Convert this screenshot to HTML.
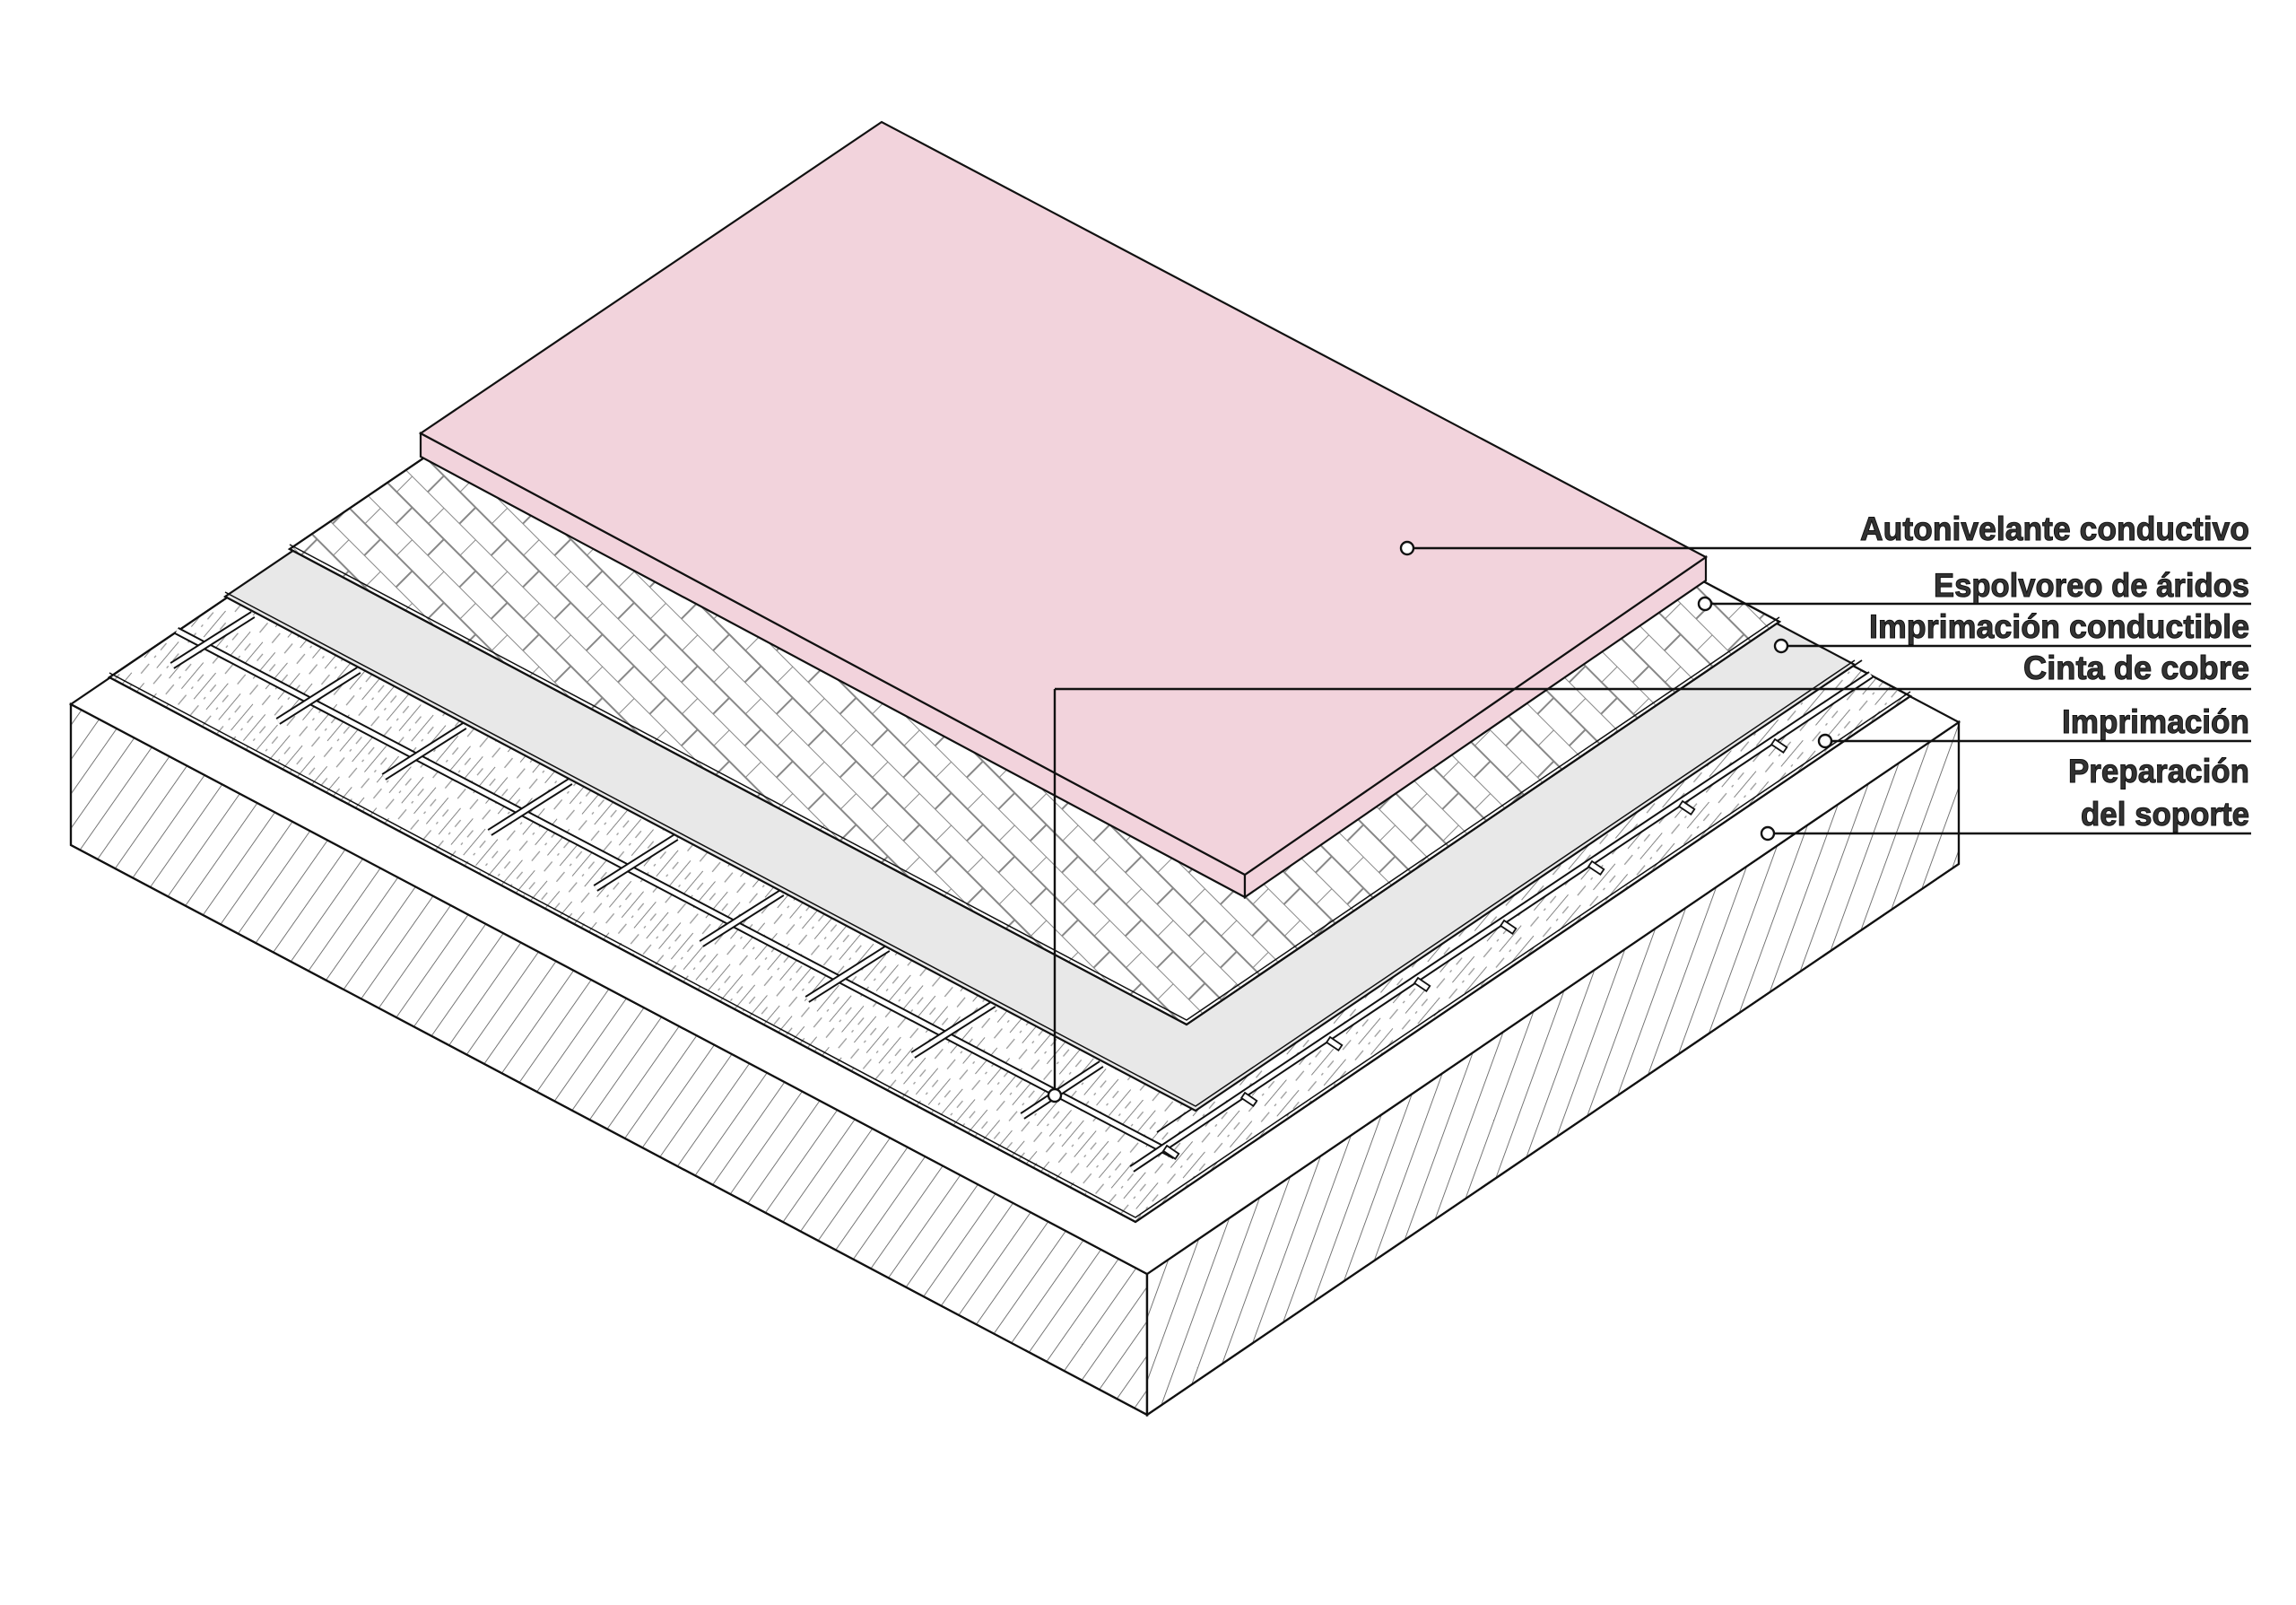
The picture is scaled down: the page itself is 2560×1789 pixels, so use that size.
<!DOCTYPE html>
<html><head><meta charset="utf-8"><style>html,body{margin:0;padding:0;background:#fff}svg{display:block}</style></head>
<body>
<svg width="2560" height="1789" viewBox="0 0 2560 1789" xmlns="http://www.w3.org/2000/svg">
<defs>
<pattern id="hL" width="22" height="22" patternUnits="userSpaceOnUse" patternTransform="rotate(35)">
<line x1="0" y1="0" x2="0" y2="22" stroke="#555" stroke-width="1.6"/></pattern>
<pattern id="hR" width="24" height="24" patternUnits="userSpaceOnUse" patternTransform="rotate(20)">
<line x1="0" y1="0" x2="0" y2="24" stroke="#555" stroke-width="1.6"/></pattern>
<pattern id="hD" width="18" height="60" patternUnits="userSpaceOnUse" patternTransform="rotate(40)">
<line x1="0" y1="0" x2="0" y2="38" stroke="#777" stroke-width="1.8"/>
<line x1="9" y1="10" x2="9" y2="20" stroke="#999" stroke-width="1.3"/>
<line x1="9" y1="28" x2="9" y2="31" stroke="#999" stroke-width="1.3"/>
<line x1="9" y1="40" x2="9" y2="54" stroke="#999" stroke-width="1.3"/></pattern>
<pattern id="hX" width="50" height="50" patternUnits="userSpaceOnUse" patternTransform="rotate(45)">
<line x1="0" y1="0" x2="50" y2="0" stroke="#888" stroke-width="2"/>
<line x1="0" y1="25" x2="50" y2="25" stroke="#888" stroke-width="2"/>
<line x1="0" y1="0" x2="0" y2="25" stroke="#888" stroke-width="2"/>
<line x1="25" y1="25" x2="25" y2="50" stroke="#888" stroke-width="2"/></pattern>
</defs>
<g stroke="#111" stroke-width="2.2" stroke-linejoin="miter">
<polygon points="79,785 1279,1420 1279,1577 79,942" fill="#fff"/>
<polygon points="79,785 1279,1420 1279,1577 79,942" fill="url(#hL)"/>
<polygon points="1279,1420 2184,805 2184,963 1279,1577" fill="#fff"/>
<polygon points="1279,1420 2184,805 2184,963 1279,1577" fill="url(#hR)"/>
<polygon points="79,785 1279,1420 2184,805 984,170" fill="#fff"/>
<polygon points="122,755 1266,1362 2130,776 986,169" fill="#fff"/>
<polygon points="122,755 1266,1362 2130,776 986,169" fill="url(#hD)"/>
<polyline points="122,750 1266,1357 2130,771" fill="none" stroke-width="1.5"/>
<g fill="none">
<line x1="197" y1="703" x2="1310" y2="1288" stroke-width="9"/>
<line x1="197" y1="703" x2="1310" y2="1288" stroke="#fff" stroke-width="5"/>
<line x1="192" y1="742" x2="282" y2="685" stroke-width="9"/><line x1="192" y1="742" x2="282" y2="685" stroke="#fff" stroke-width="5"/>
<line x1="310" y1="804" x2="400" y2="747" stroke-width="9"/><line x1="310" y1="804" x2="400" y2="747" stroke="#fff" stroke-width="5"/>
<line x1="428" y1="866" x2="518" y2="809" stroke-width="9"/><line x1="428" y1="866" x2="518" y2="809" stroke="#fff" stroke-width="5"/>
<line x1="546" y1="928" x2="636" y2="871" stroke-width="9"/><line x1="546" y1="928" x2="636" y2="871" stroke="#fff" stroke-width="5"/>
<line x1="664" y1="990" x2="754" y2="933" stroke-width="9"/><line x1="664" y1="990" x2="754" y2="933" stroke="#fff" stroke-width="5"/>
<line x1="782" y1="1052" x2="872" y2="995" stroke-width="9"/><line x1="782" y1="1052" x2="872" y2="995" stroke="#fff" stroke-width="5"/>
<line x1="900" y1="1114" x2="990" y2="1057" stroke-width="9"/><line x1="900" y1="1114" x2="990" y2="1057" stroke="#fff" stroke-width="5"/>
<line x1="1018" y1="1176" x2="1108" y2="1119" stroke-width="9"/><line x1="1018" y1="1176" x2="1108" y2="1119" stroke="#fff" stroke-width="5"/>
<line x1="1140" y1="1244" x2="1228" y2="1186" stroke-width="9"/><line x1="1140" y1="1244" x2="1228" y2="1186" stroke="#fff" stroke-width="5"/>
<line x1="1262" y1="1303" x2="2086" y2="752" stroke-width="9"/>
<line x1="1262" y1="1303" x2="2086" y2="752" stroke="#fff" stroke-width="5"/>
<line x1="1290" y1="1262" x2="2076" y2="736" stroke-width="1.8"/>
</g>
<g fill="#fff" stroke-width="1.8">
<rect x="1298" y="1281" width="16" height="7" transform="rotate(34 1306 1284)"/>
<rect x="1385" y="1222" width="16" height="7" transform="rotate(34 1393 1225)"/>
<rect x="1480" y="1160" width="16" height="7" transform="rotate(34 1488 1163)"/>
<rect x="1578" y="1094" width="16" height="7" transform="rotate(34 1586 1097)"/>
<rect x="1674" y="1030" width="16" height="7" transform="rotate(34 1682 1033)"/>
<rect x="1772" y="964" width="16" height="7" transform="rotate(34 1780 967)"/>
<rect x="1873" y="897" width="16" height="7" transform="rotate(34 1881 900)"/>
<rect x="1976" y="828" width="16" height="7" transform="rotate(34 1984 831)"/>
</g>
<polygon points="251,665 1333,1238 2068,741 986,168" fill="#e8e8e8"/>
<polyline points="251,660 1333,1233 2068,736" fill="none" stroke-width="1.5"/>
<polygon points="323,612 1323,1142 1984,693 984,163" fill="#fff"/>
<polygon points="323,612 1323,1142 1984,693 984,163" fill="url(#hX)"/>
<polyline points="323,607 1323,1137 1984,688" fill="none" stroke-width="1.5"/>
<polygon points="469,483 1388,975 1388,1000 469,509" fill="#f2d3dc"/>
<polygon points="1388,975 1902,621 1902,647 1388,1000" fill="#f2d3dc"/>
<polygon points="469,483 983,136 1902,621 1388,975" fill="#f2d3dc"/>
</g>
<g stroke="#111" stroke-width="2.4" fill="none">
<line x1="1576" y1="611" x2="2510" y2="611"/>
<line x1="1908" y1="673" x2="2510" y2="673"/>
<line x1="1993" y1="720" x2="2510" y2="720"/>
<line x1="1176" y1="768" x2="2510" y2="768"/>
<line x1="1176" y1="768" x2="1176" y2="1214"/>
<line x1="2042" y1="826" x2="2510" y2="826"/>
<line x1="1978" y1="929" x2="2510" y2="929"/>
</g>
<g stroke="#111" stroke-width="2.4" fill="#fff">
<circle cx="1569" cy="611" r="7"/>
<circle cx="1901" cy="673" r="7"/>
<circle cx="1986" cy="720" r="7"/>
<circle cx="1176" cy="1221" r="7"/>
<circle cx="2035" cy="826" r="7"/>
<circle cx="1971" cy="929" r="7"/>
</g>
<g font-family="Liberation Sans, sans-serif" font-size="37" font-weight="bold" fill="#333" stroke="#111" stroke-width="1" text-anchor="end">
<text x="2508" y="602" textLength="434" lengthAdjust="spacingAndGlyphs">Autonivelante conductivo</text>
<text x="2508" y="665" textLength="352" lengthAdjust="spacingAndGlyphs">Espolvoreo de áridos</text>
<text x="2508" y="711" textLength="424" lengthAdjust="spacingAndGlyphs">Imprimación conductible</text>
<text x="2508" y="757" textLength="252" lengthAdjust="spacingAndGlyphs">Cinta de cobre</text>
<text x="2508" y="817" textLength="209" lengthAdjust="spacingAndGlyphs">Imprimación</text>
<text x="2508" y="872" textLength="202" lengthAdjust="spacingAndGlyphs">Preparación</text>
<text x="2508" y="920" textLength="188" lengthAdjust="spacingAndGlyphs">del soporte</text>
</g>
</svg>
</body></html>
